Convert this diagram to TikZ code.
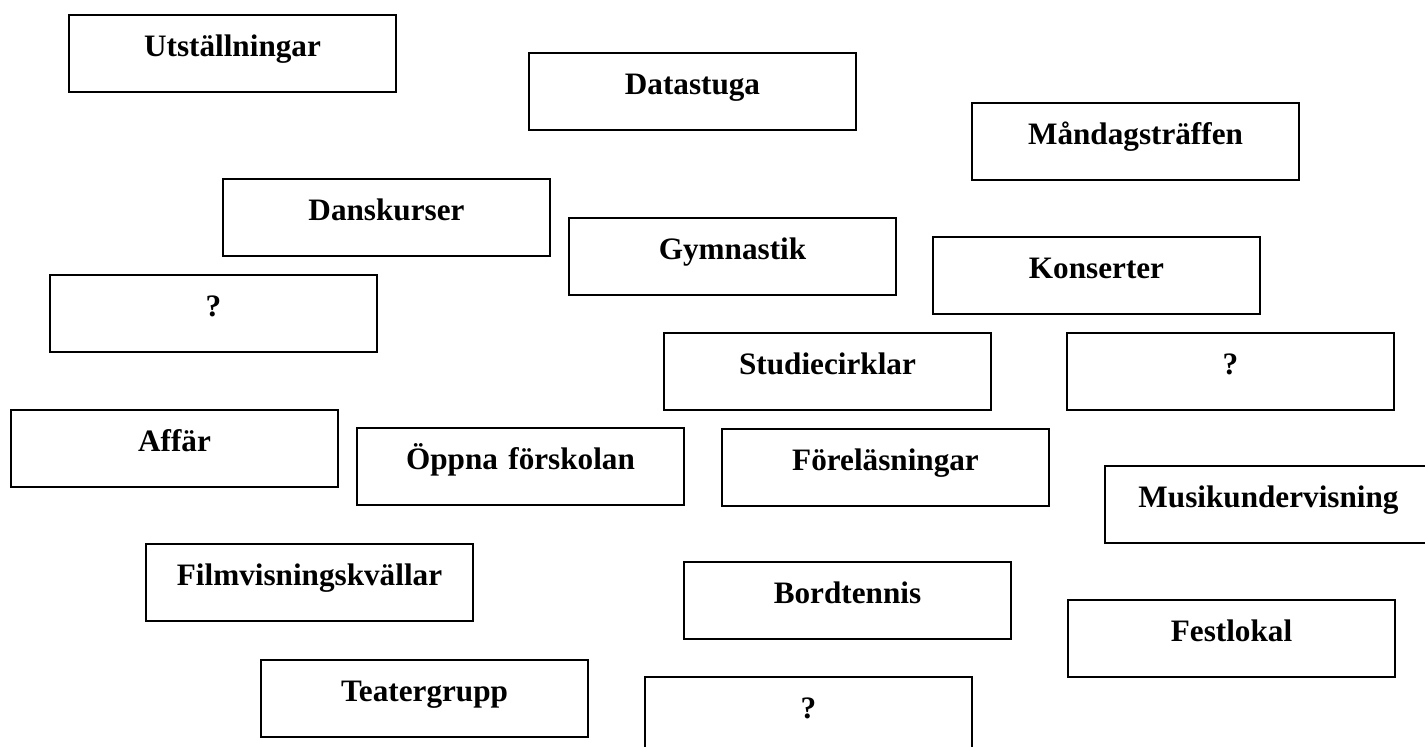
\documentclass[tikz,border=0pt]{standalone}
\usepackage{fontspec}
\setmainfont{Liberation Serif}
\begin{document}
\begin{tikzpicture}[x=0.5pt,y=-0.5pt,
  box/.style={draw, line width=1pt, inner sep=0pt, text width=163.5pt, align=center,
    text height=20.5pt, text depth=18pt, anchor=north west,
    font=\bfseries\fontsize{15.6}{18}\selectfont}]
\useasboundingbox (0,0) rectangle (1425,746);
\clip (0,0) rectangle (1425,746);
\fill[white] (0,0) rectangle (1425,746);
\node[box] (u)  at (68,14)   {Utställningar};
\node[box] (d)  at (528,52)  {Datastuga};
\node[box] (m)  at (971,102) {Måndagsträffen};
\node[box] (dk) at (222,178) {Danskurser};
\node[box] (g)  at (568,217) {Gymnastik};
\node[box] (k)  at (932,236) {Konserter};
\node[box] (q1) at (49,274)  {?};
\node[box] (s)  at (663,332) {Studiecirklar};
\node[box] (q2) at (1066,332) {?};
\node[box] (a)  at (10,409)  {Affär};
\node[box] (o)  at (356,427) {Öppna förskolan};
\node[box] (f)  at (721,428) {Föreläsningar};
\node[box] (mu) at (1104,465) {Musikundervisning};
\node[box] (fi) at (145,543) {Filmvisningskvällar};
\node[box] (b)  at (683,561) {Bordtennis};
\node[box] (fe) at (1067,599) {Festlokal};
\node[box] (t)  at (260,659) {Teatergrupp};
\node[box] (q3) at (644,676) {?};
\end{tikzpicture}
\end{document}
